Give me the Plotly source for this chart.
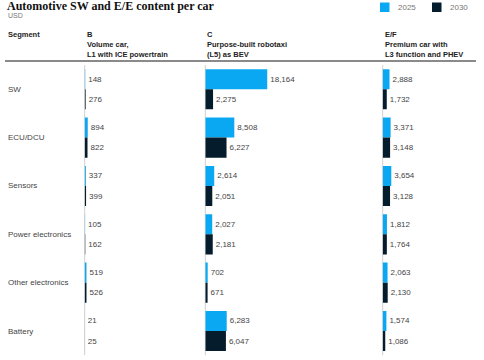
import plotly.graph_objects as go

categories = ["SW", "ECU/DCU", "Sensors", "Power electronics", "Other electronics", "Battery"]
b_2025 = [148, 894, 337, 105, 519, 21]
b_2030 = [276, 822, 399, 162, 526, 25]
c_2025 = [18164, 8508, 2614, 2027, 702, 6283]
c_2030 = [2275, 6227, 2051, 2181, 671, 6047]
ef_2025 = [2888, 3371, 3654, 1812, 2063, 1574]
ef_2030 = [1732, 3148, 3128, 1764, 2130, 1086]

panel_codes = ["B", "C", "E/F"]
panel_desc = [
    ["Volume car,", "L1 with ICE powertrain"],
    ["Purpose-built robotaxi", "(L5) as BEV"],
    ["Premium car with", "L3 function and PHEV"],
]
series_names = ["2025", "2030"]
series_colors = ["#0AA8F2", "#051C2C"]

W, H = 484, 360
SANS = "Liberation Sans, Arial, sans-serif"
panels = [(b_2025, b_2030), (c_2025, c_2030), (ef_2025, ef_2030)]
# pixel domains and px per unit
dom_px = [(84.7, 200.0), (205.3, 375.0), (382.7, 480.0)]
px_per_unit = [0.00341, 0.00341, 0.00235]

fig = go.Figure()
for i, (s25, s30) in enumerate(panels):
    xa = "x" if i == 0 else f"x{i+1}"
    for j, vals in enumerate([s25, s30]):
        fig.add_trace(go.Bar(
            y=categories, x=vals, orientation="h", xaxis=xa, yaxis="y",
            name=series_names[j], legendgroup=series_names[j], showlegend=False,
            marker=dict(color=series_colors[j], line=dict(width=0)),
            texttemplate="%{x:,}", textposition="outside", cliponaxis=False,
            textfont=dict(family=SANS, size=8, color="#444444"),
            hoverinfo="skip",
        ))

layout = dict(
    width=W, height=H, margin=dict(l=0, r=0, t=0, b=0, autoexpand=False),
    paper_bgcolor="white", plot_bgcolor="white",
    barmode="group", bargap=0.17, bargroupgap=0,
    showlegend=False, hovermode=False,
    yaxis=dict(domain=[1 - 355.2 / H, 1 - 65.1 / H], range=[5.5, -0.5], type="category",
               showticklabels=False, showgrid=False, zeroline=False, showline=False, ticks=""),
)
shapes = []
annotations = []
for i in range(3):
    key = "xaxis" if i == 0 else f"xaxis{i+1}"
    a, b = dom_px[i]
    layout[key] = dict(domain=[a / W, b / W], range=[0, (b - a) / px_per_unit[i]],
                       anchor="y", showticklabels=False, showgrid=False, zeroline=False,
                       showline=False, ticks="")
    xr = "x domain" if i == 0 else f"x{i+1} domain"
    shapes.append(dict(type="line", xref=xr, yref="y domain", x0=0, x1=0, y0=0, y1=1,
                       line=dict(color="#cfcfcf", width=1), layer="below"))
    annotations.append(dict(text="<b>" + panel_codes[i] + "</b>", xref="paper", yref="paper",
                            x=a / W, y=1 - 34 / H, xanchor="left", yanchor="middle", showarrow=False,
                            font=dict(family=SANS, size=7.5, color="#222222")))
    for k, line in enumerate(panel_desc[i]):
        annotations.append(dict(text="<b>" + line + "</b>", xref="paper", yref="paper",
                                x=a / W, y=1 - (44 + 10 * k) / H, xanchor="left", yanchor="middle",
                                showarrow=False, font=dict(family=SANS, size=7.5, color="#222222")))

# title and subtitle
annotations.append(dict(text="<b>Automotive SW and E/E content per car</b>", xref="paper", yref="paper",
                        x=5 / W, y=1 - 6 / H, xanchor="left", yanchor="middle", showarrow=False,
                        font=dict(family="Liberation Serif, Times New Roman, serif", size=12,
                                  color="#111111")))
annotations.append(dict(text="USD", xref="paper", yref="paper", x=6 / W, y=1 - 16 / H,
                        xanchor="left", yanchor="middle", showarrow=False,
                        font=dict(family=SANS, size=7, color="#777777")))
annotations.append(dict(text="<b>Segment</b>", xref="paper", yref="paper", x=6 / W, y=1 - 34 / H,
                        xanchor="left", yanchor="middle", showarrow=False,
                        font=dict(family=SANS, size=7.5, color="#222222")))
for c in categories:
    annotations.append(dict(text=c, xref="paper", yref="y", x=6 / W, y=c,
                            xanchor="left", yanchor="middle", showarrow=False,
                            font=dict(family=SANS, size=8, color="#444444")))

# legend (manual)
leg_x = [380, 432]
for j, name in enumerate(series_names):
    x0 = leg_x[j]
    shapes.append(dict(type="rect", xref="paper", yref="paper", x0=x0 / W, x1=(x0 + 9.5) / W,
                       y0=1 - 12 / H, y1=1 - 2.5 / H, fillcolor=series_colors[j],
                       line=dict(width=0)))
    annotations.append(dict(text=name, xref="paper", yref="paper", x=(x0 + 16) / W, y=1 - 7.5 / H,
                            xanchor="left", yanchor="middle", showarrow=False,
                            font=dict(family=SANS, size=8, color="#777777")))

shapes.append(dict(type="line", xref="paper", yref="paper", x0=5 / W, x1=476 / W,
                   y0=1 - 61 / H, y1=1 - 61 / H, line=dict(color="#8a8a8a", width=2)))
layout["shapes"] = shapes
layout["annotations"] = annotations
fig.update_layout(**layout)
fig.write_html("out.html", config={"displayModeBar": False, "staticPlot": True},
               post_script="document.body.style.margin='0';document.body.style.padding='0';")
